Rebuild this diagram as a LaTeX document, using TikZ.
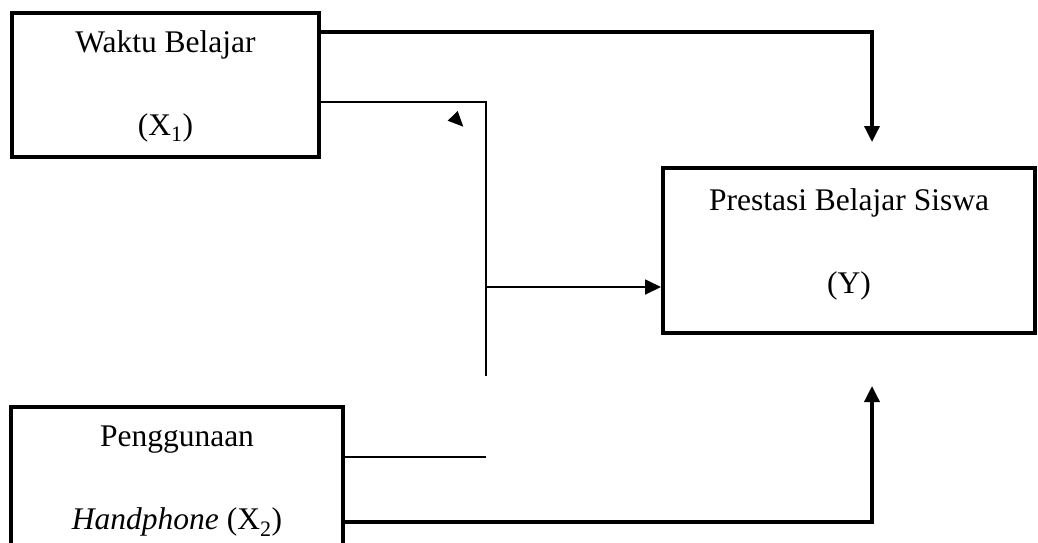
\documentclass[tikz,border=0pt]{standalone}
\usepackage{fontspec}
\setmainfont{Liberation Serif}
\usetikzlibrary{arrows.meta}
\begin{document}
\begin{tikzpicture}[x=1pt,y=-1pt,
  varbox/.style={draw,line width=4pt,inner sep=0pt},
  lbl/.style={align=center,font=\fontsize{31.5}{83}\selectfont},
  heavy/.style={line width=3.5pt},
  light/.style={line width=1.3pt},
  tip/.style={-{Triangle[length=16pt,width=15pt]}}]
\useasboundingbox (0,0) rectangle (1038,542);
\clip (0,0) rectangle (1038,542);
% variable boxes
\node[varbox,minimum width=307pt,minimum height=144pt] (x1) at (165.5,85) {};
\node[varbox,minimum width=332pt,minimum height=150pt] (x2) at (177,482) {};
\node[varbox,minimum width=372pt,minimum height=165pt] (y) at (849,250.5) {};
% box texts
\node[lbl] (x1t) at (165.5,86.5) {Waktu Belajar\\(X\textsubscript{1})};
\node[lbl] (x2t) at (177,481.5) {Penggunaan\\\textit{Handphone} (X\textsubscript{2})};
\node[lbl] (yt) at (849,244) {Prestasi Belajar Siswa\\(Y)};
% routing points
\coordinate (a1) at (x1.east |- 0,32);
\coordinate (a2) at (872,32);
\coordinate (a3) at (872,142);
\coordinate (b1) at (x1.east |- 0,102);
\coordinate (b2) at (486,102);
\coordinate (b3) at (486,376);
\coordinate (c1) at (x2.east |- 0,457);
\coordinate (c2) at (486,457);
\coordinate (j) at (486,287);
\coordinate (d1) at (x2.east |- 0,522);
\coordinate (d2) at (872,522);
\coordinate (d3) at (872,386);
% connectors
\draw[heavy,tip] (a1) -- (a2) -- (a3);
\draw[light] (b1) -- (b2) -- (b3);
\draw[light] (c1) -- (c2);
\draw[line width=1.8pt,tip] (j) -- (y.west |- j);
\draw[heavy,tip] (d1) -- (d2) -- (d3);
% stray arrowhead
\fill (447.7,120.7) -- (457.7,111) -- (463.3,126.7) -- cycle;
\end{tikzpicture}
\end{document}
